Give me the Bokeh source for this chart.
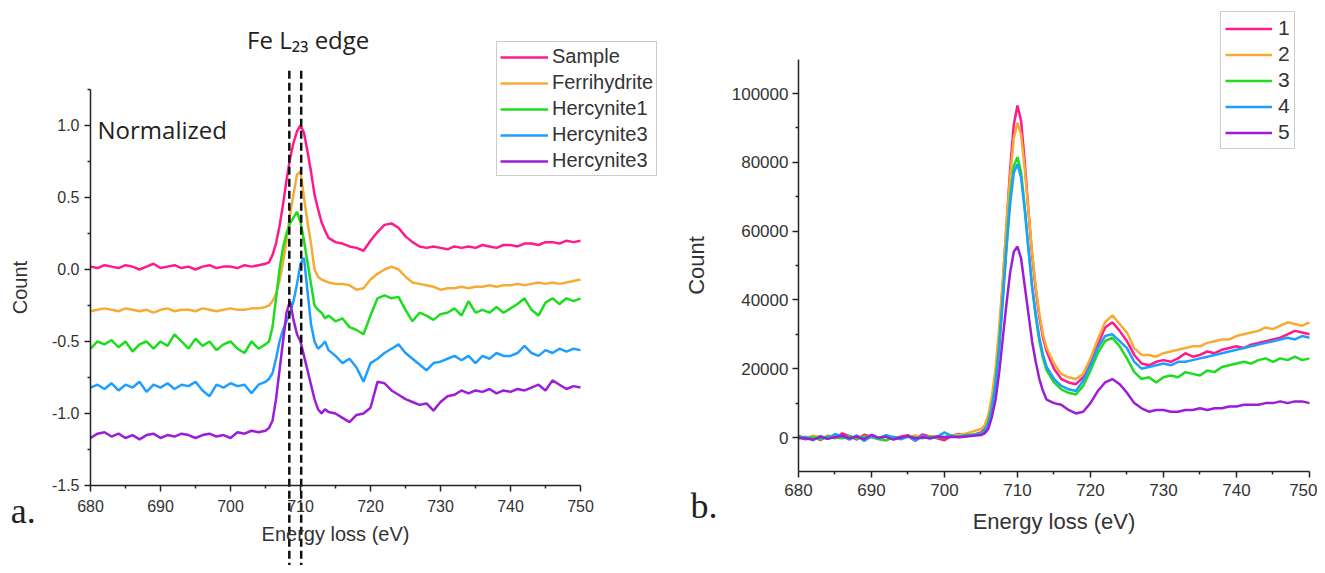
from bokeh.plotting import figure
from bokeh.models import Legend, LegendItem, Label, FixedTicker, PrintfTickFormatter, Range1d
from bokeh.layouts import row
from bokeh.embed import file_html
from bokeh.resources import INLINE

# ---------------- data ----------------
ENERGY = [680, 681, 682, 683, 684, 685, 686, 687, 688, 689, 690, 691, 692, 693, 694, 695, 696, 697, 698, 699,
          700, 701, 702, 703, 704, 705,
          705.5, 706, 706.5, 707, 707.5, 708, 708.5, 709, 709.5, 710, 710.5, 711, 711.5, 712, 712.5, 713, 713.5, 714,
          715, 716, 717, 718, 719, 720, 721, 722, 723, 724, 725, 726, 727, 728, 729, 730, 731, 732, 733, 734,
          735, 736, 737, 738, 739, 740, 741, 742, 743, 744, 745, 746, 747, 748, 749, 750]

A_LABELS = ["Sample", "Ferrihydrite", "Hercynite1", "Hercynite3", "Hercynite3"]
A_SAMPLE = [0.02, 0.01, 0.03, 0.02, 0.01, 0.03, 0.02, 0.00, 0.02, 0.04, 0.01, 0.02, 0.03, 0.01, 0.02, 0.00, 0.02, 0.03, 0.01, 0.02, 0.02, 0.01, 0.03, 0.02, 0.03, 0.04,
            0.05, 0.1, 0.18, 0.3, 0.45, 0.62, 0.77, 0.88, 0.96, 1.0, 0.95, 0.82, 0.68, 0.52, 0.42, 0.33, 0.27, 0.22,
            0.19, 0.18, 0.16, 0.15, 0.13, 0.2, 0.26, 0.31, 0.32, 0.29, 0.23, 0.19, 0.16, 0.15, 0.16, 0.15, 0.14, 0.16, 0.15, 0.16, 0.15, 0.17, 0.16, 0.15, 0.17, 0.17, 0.16, 0.18, 0.18, 0.17, 0.19, 0.19, 0.18, 0.2, 0.19, 0.2]
A_FERRI = [-0.29, -0.28, -0.27, -0.28, -0.29, -0.27, -0.28, -0.29, -0.28, -0.30, -0.28, -0.27, -0.29, -0.28, -0.28, -0.29, -0.27, -0.28, -0.29, -0.28, -0.27, -0.28, -0.28, -0.27, -0.27, -0.26,
           -0.25, -0.22, -0.17, -0.08, 0.05, 0.2, 0.38, 0.52, 0.66, 0.68, 0.5, 0.33, 0.18, 0.0, -0.05, -0.07, -0.08, -0.09,
           -0.1, -0.1, -0.11, -0.14, -0.13, -0.07, -0.03, 0.0, 0.02, 0.0, -0.05, -0.09, -0.1, -0.11, -0.12, -0.14, -0.13, -0.13, -0.12, -0.13, -0.12, -0.12, -0.11, -0.12, -0.11, -0.11, -0.1, -0.11, -0.1, -0.09, -0.1, -0.09, -0.1, -0.09, -0.08, -0.07]
A_HERC1 = [-0.55, -0.5, -0.52, -0.49, -0.54, -0.5, -0.57, -0.52, -0.5, -0.55, -0.5, -0.53, -0.45, -0.5, -0.55, -0.48, -0.53, -0.5, -0.56, -0.52, -0.5, -0.55, -0.58, -0.5, -0.55, -0.52,
           -0.5, -0.4, -0.2, 0.0, 0.15, 0.25, 0.32, 0.36, 0.4, 0.33, 0.2, 0.05, -0.1, -0.25, -0.28, -0.3, -0.34, -0.32,
           -0.36, -0.34, -0.4, -0.42, -0.45, -0.32, -0.2, -0.18, -0.2, -0.19, -0.28, -0.36, -0.3, -0.32, -0.35, -0.31, -0.3, -0.27, -0.32, -0.22, -0.3, -0.28, -0.3, -0.26, -0.3, -0.27, -0.24, -0.2, -0.28, -0.32, -0.23, -0.2, -0.24, -0.2, -0.22, -0.2]
A_HERC3 = [-0.82, -0.8, -0.83, -0.79, -0.84, -0.8, -0.82, -0.78, -0.85, -0.8, -0.82, -0.79, -0.83, -0.8, -0.81, -0.78, -0.84, -0.88, -0.8, -0.82, -0.79, -0.81, -0.8, -0.86, -0.8, -0.78,
           -0.76, -0.72, -0.62, -0.5, -0.42, -0.36, -0.3, -0.22, -0.1, 0.04, 0.08, -0.15, -0.38, -0.5, -0.55, -0.53, -0.5, -0.56,
           -0.6, -0.65, -0.62, -0.68, -0.78, -0.65, -0.62, -0.58, -0.55, -0.52, -0.58, -0.62, -0.66, -0.7, -0.65, -0.64, -0.62, -0.6, -0.63, -0.6, -0.65, -0.6, -0.62, -0.58, -0.6, -0.6, -0.58, -0.53, -0.58, -0.6, -0.56, -0.58, -0.55, -0.57, -0.55, -0.56]
A_HERC3B = [-1.17, -1.14, -1.13, -1.16, -1.14, -1.17, -1.15, -1.18, -1.15, -1.14, -1.17, -1.15, -1.16, -1.14, -1.15, -1.17, -1.15, -1.14, -1.16, -1.15, -1.17, -1.13, -1.14, -1.12, -1.13, -1.12,
            -1.1, -1.05, -0.9, -0.7, -0.5, -0.3, -0.22, -0.35, -0.45, -0.5, -0.6, -0.7, -0.8, -0.9, -0.97, -1.0, -0.97, -0.99,
            -1.0, -1.03, -1.06, -1.01, -1.0, -0.96, -0.78, -0.79, -0.84, -0.87, -0.9, -0.92, -0.94, -0.93, -0.98, -0.92, -0.88, -0.87, -0.84, -0.86, -0.84, -0.85, -0.83, -0.86, -0.84, -0.85, -0.83, -0.84, -0.82, -0.8, -0.84, -0.77, -0.8, -0.83, -0.81, -0.82]
EDGE_LINES = [708.4, 710.1]

B_LABELS = ["1", "2", "3", "4", "5"]
B_1 = [0, -500, 300, -800, 500, -200, 1200, 400, -600, 800, 200, -400, 600, -300, 200, 700, -500, 900, 300, -200, -800, 500, 1000, 600, 800, 1500,
       2500, 5000, 10000, 18000, 30000, 45000, 62000, 78000, 91000, 96500, 92000, 80000, 66000, 53000, 43000, 35000, 29000, 25000,
       20000, 17000, 16000, 15500, 17500, 22000, 27000, 32000, 33500, 31000, 28000, 24000, 21500, 21000, 22000, 22500, 22000, 23000, 24500, 23500, 24000, 25000, 24500, 25500, 26000, 26500, 26000, 27000, 27500, 28000, 28500, 29000, 30000, 31000, 30500, 30000]
B_2 = [300, -200, 500, 100, -300, 600, 200, -100, 400, 0, 500, -200, 300, 100, -400, 200, 600, -100, 300, 400, 0, 600, 800, 1200, 1800, 2500,
       3500, 6500, 12000, 20000, 32000, 46000, 62000, 76000, 87000, 91500, 88000, 78000, 66000, 54000, 44000, 36000, 30000, 26000,
       21500, 18500, 17500, 17000, 18500, 23000, 28500, 33500, 35500, 33000, 30500, 26000, 24000, 24000, 23500, 24500, 25000, 25500, 26000, 26500, 26500, 27500, 28000, 28500, 28500, 29500, 30000, 30500, 31000, 32000, 31500, 32500, 33500, 33000, 32500, 33500]
B_3 = [500, -300, 200, -600, 400, 0, -200, 500, -400, 300, 100, -500, -900, 200, -300, 400, 0, -200, 300, -100, 200, 500, 300, 700, 900, 1200,
       2000, 4500, 9000, 16000, 27000, 41000, 56000, 70000, 79000, 81500, 77000, 67000, 55000, 44000, 35000, 28000, 23000, 19500,
       16000, 14000, 13000, 12500, 15000, 19500, 24500, 28000, 29000, 26500, 23000, 19000, 17000, 17500, 16000, 17500, 18000, 17500, 19000, 18500, 18000, 19500, 19000, 20500, 21000, 21500, 22000, 21500, 22500, 23000, 22000, 23000, 22500, 23500, 22500, 23000]
B_4 = [-300, 200, -800, 500, -400, 1000, 300, -600, 600, -1000, 400, -200, 700, 100, -500, 300, -1000, 500, -300, 200, 1500, 400, 200, 500, 700, 1000,
       1800, 4000, 8500, 15500, 26000, 40000, 55000, 68000, 77000, 79500, 75500, 66000, 55000, 44000, 36000, 29000, 24000, 20500,
       17000, 15000, 14000, 13500, 16500, 21000, 26000, 29500, 30000, 28000, 26000, 22000, 20000, 20500, 21000, 21500, 21000, 22000, 22000, 22500, 23000, 23500, 24000, 24500, 25000, 25500, 26000, 26500, 27000, 27500, 28000, 28500, 29000, 28500, 29500, 29000]
B_5 = [0, -300, -600, 200, -400, 100, 500, -200, 300, -500, 800, -100, 200, -600, 0, 400, -300, 100, -200, 300, 0, 200, 100, 300, 500, 700,
       1200, 2500, 6000, 11000, 19000, 29000, 39000, 48000, 54000, 55500, 52000, 44000, 36000, 28000, 22000, 17000, 13500, 11000,
       10000, 9500, 8000, 7000, 7500, 10000, 13500, 16000, 17000, 15500, 13000, 10000, 8500, 7500, 8000, 8000, 7500, 7500, 8000, 8000, 8500, 8000, 8500, 8500, 9000, 9000, 9500, 9500, 9500, 10000, 10000, 10500, 10000, 10500, 10500, 10000]

X_TICKS = [680, 690, 700, 710, 720, 730, 740, 750]
A_Y_TICKS = [-1.5, -1.0, -0.5, 0.0, 0.5, 1.0]
B_Y_TICKS = [0, 20000, 40000, 60000, 80000, 100000]

COLORS = ["#FF1A8C", "#F5AB35", "#1EDC1E", "#1E9EFF", "#9B1ED6"]
TEXT = "#333333"
SANS = "Liberation Sans"


def style_axes(p, tick_size, label_size):
    for ax in (p.xaxis[0], p.yaxis[0]):
        ax.axis_line_color = "#222222"
        ax.axis_line_width = 1.5
        ax.major_tick_line_color = "#222222"
        ax.major_tick_line_width = 1.5
        ax.minor_tick_line_color = "#222222"
        ax.minor_tick_line_width = 1.5
        ax.major_tick_in = 0
        ax.major_tick_out = 6
        ax.minor_tick_in = 0
        ax.minor_tick_out = 3
        ax.major_label_text_font = SANS
        ax.major_label_text_font_size = tick_size
        ax.major_label_text_color = TEXT
        ax.axis_label_text_font = SANS
        ax.axis_label_text_font_size = label_size
        ax.axis_label_text_font_style = "normal"
        ax.axis_label_text_color = TEXT
    p.xgrid.visible = False
    p.ygrid.visible = False
    p.outline_line_color = None


# ---------------- panel a ----------------
# canvas covers the whole panel; axes are drawn at fixed data locations inside it
pa = figure(width=660, height=565, min_border=0, title=None,
            x_range=Range1d(667.14, 761.43), y_range=Range1d(-2.0556, 1.868),
            output_backend="svg", toolbar_location=None,
            x_axis_label="Energy loss (eV)", y_axis_label="Count")
style_axes(pa, "16px", "20px")
pa.xaxis.fixed_location = -1.5
pa.yaxis.fixed_location = 680
pa.xaxis.bounds = (680, 750)
pa.yaxis.bounds = (-1.5, 1.25)
pa.xaxis.ticker = FixedTicker(ticks=X_TICKS, minor_ticks=[t + 5 for t in X_TICKS[:-1]])
pa.yaxis.ticker = FixedTicker(ticks=A_Y_TICKS, minor_ticks=[t + 0.25 for t in A_Y_TICKS])
pa.yaxis.formatter = PrintfTickFormatter(format="%.1f")
pa.xaxis.major_label_standoff = 9
pa.xaxis.axis_label_standoff = 7
pa.yaxis.major_label_standoff = 5
pa.yaxis.axis_label_standoff = 18

a_items = []
for lab, ys, col in zip(A_LABELS, [A_SAMPLE, A_FERRI, A_HERC1, A_HERC3, A_HERC3B], COLORS):
    r = pa.line(ENERGY, ys, line_color=col, line_width=2.5)
    a_items.append(LegendItem(label=lab, renderers=[r]))

pa.segment(x0=EDGE_LINES, y0=[1.38, 1.38], x1=EDGE_LINES, y1=[-2.2, -2.2],
           line_color="#111111", line_width=2.5, line_dash="8 4")

leg_a = Legend(items=a_items, location=(496, 389), border_line_color="#9a9a9a", border_line_width=1.5,
               background_fill_color="white", padding=3, spacing=3, glyph_width=48, glyph_height=20,
               label_height=20, label_standoff=4, label_text_font=SANS, label_text_font_size="20px",
               label_text_color=TEXT, margin=0)
pa.add_layout(leg_a)

pa.add_layout(Label(x=711.1, y=1.6, text="Fe L₂₃ edge", text_align="center", text_baseline="middle",
                    text_font="Open Sans", text_font_size="24px", text_color="#222222"))
pa.add_layout(Label(x=681, y=0.97, text="Normalized", text_align="left", text_baseline="middle",
                    text_font="Open Sans", text_font_size="24px", text_color="#222222"))
pa.add_layout(Label(x=668.6, y=-1.68, text="a.", text_align="left", text_baseline="middle",
                    text_font="Liberation Serif", text_font_size="36px", text_color="#222222"))

# ---------------- panel b ----------------
pb = figure(width=657, height=565, min_border=0, title=None,
            x_range=Range1d(661.10, 751.10), y_range=Range1d(-37209, 127035),
            output_backend="svg", toolbar_location=None,
            x_axis_label="Energy loss (eV)", y_axis_label="Count")
style_axes(pb, "17px", "22px")
pb.xaxis.fixed_location = -10000
pb.yaxis.fixed_location = 680
pb.xaxis.bounds = (680, 750)
pb.yaxis.bounds = (-10000, 110000)
pb.xaxis.ticker = FixedTicker(ticks=X_TICKS, minor_ticks=[t + 5 for t in X_TICKS[:-1]])
pb.yaxis.ticker = FixedTicker(ticks=B_Y_TICKS, minor_ticks=[t + 10000 for t in B_Y_TICKS[:-1]])
pb.yaxis.formatter = PrintfTickFormatter(format="%d")
pb.xaxis.major_label_standoff = 6
pb.xaxis.axis_label_standoff = 10
pb.yaxis.major_label_standoff = 4
pb.yaxis.axis_label_standoff = 20

b_items = []
for lab, ys, col in zip(B_LABELS, [B_1, B_2, B_3, B_4, B_5], COLORS):
    r = pb.line(ENERGY, ys, line_color=col, line_width=2.5)
    b_items.append(LegendItem(label=lab, renderers=[r]))

leg_b = Legend(items=b_items, location=(560, 416), border_line_color="#9a9a9a", border_line_width=1.5,
               background_fill_color="white", padding=4, spacing=2, glyph_width=47, glyph_height=21,
               label_height=21, label_width=10, label_standoff=6, label_text_font=SANS, label_text_font_size="21px",
               label_text_color=TEXT, margin=0)
pb.add_layout(leg_b)

pb.add_layout(Label(x=665.2, y=-19800, text="b.", text_align="left", text_baseline="middle",
                    text_font="Liberation Serif", text_font_size="36px", text_color="#222222"))

layout = row(pa, pb)
open("out.html", "w").write(file_html(layout, INLINE))
